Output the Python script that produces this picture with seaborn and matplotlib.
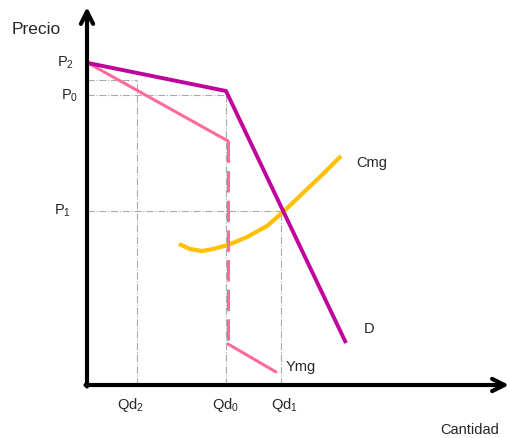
import matplotlib as mpl

mpl.use('Agg')
import pandas as pd
import matplotlib.pyplot as plt
import seaborn as sns

sns.set_style('white')
plt.rcParams['font.family'] = ['Liberation Sans', 'DejaVu Sans']
plt.rcParams['mathtext.default'] = 'regular'

#### data (origin = corner of the axes) ####
d_x = [1, 139, 259]
d_y = [322, 294, 42]

ymg_top_x = [1, 141]
ymg_top_y = [322, 244]
ymg_gap_x = [141, 141]
ymg_gap_y = [244, 41]
ymg_low_x = [141, 189]
ymg_low_y = [41, 13]

cmg_x = [92, 103, 115, 126, 141, 160, 180, 196, 216, 236, 254]
cmg_y = [141, 136, 134, 136, 140, 148, 159, 173, 192, 211, 229]

p_levels = {'P2': 322, 'P0': 290, 'P1': 174}
q_levels = {'Qd2': 50, 'Qd0': 139, 'Qd1': 194}
guide_top = {'Qd2': 305, 'Qd0': 290, 'Qd1': 174}
##########################################

D_COLOR = '#C0049B'
YMG_COLOR = '#FF6A9C'
CMG_COLOR = '#FFC000'
GUIDE = '#AAAAAA'

fig = plt.figure(figsize=(5.1, 4.38), dpi=100)
ax = fig.add_axes([0, 0, 1, 1])
ax.set_xlim(-87, 423)
ax.set_ylim(-53, 385)
ax.axis('off')

# guide lines
for name, q in q_levels.items():
    top = guide_top[name]
    ax.plot([q, q], [0, top], color=GUIDE, lw=0.8, ls='-.')
    ax.plot([0, q], [top, top], color=GUIDE, lw=0.8, ls='-.')

# curves
sns.lineplot(x=cmg_x, y=cmg_y, sort=False, color=CMG_COLOR, lw=3,
             solid_capstyle='butt', solid_joinstyle='round', ax=ax)
sns.lineplot(x=ymg_top_x, y=ymg_top_y, sort=False, color=YMG_COLOR, lw=2.2,
             ax=ax)
ax.plot(ymg_gap_x, ymg_gap_y, color=YMG_COLOR, lw=2.2, ls=(0, (7, 2.7)))
sns.lineplot(x=ymg_low_x, y=ymg_low_y, sort=False, color=YMG_COLOR, lw=2.2,
             ax=ax)
sns.lineplot(x=d_x, y=d_y, sort=False, color=D_COLOR, lw=2.8,
             solid_capstyle='butt', ax=ax)

# axes with arrows
ax.annotate('', xy=(0, 378), xytext=(0, -1.5),
            arrowprops=dict(arrowstyle='->', lw=3, color='black',
                            mutation_scale=22, shrinkA=0, shrinkB=0))
ax.annotate('', xy=(422, 0), xytext=(-1.5, 0),
            arrowprops=dict(arrowstyle='->', lw=3, color='black',
                            mutation_scale=22, shrinkA=0, shrinkB=0))

# labels
ax.text(-75, 355, 'Precio', fontsize=12.5, ha='left', va='center')
ax.text(-21, p_levels['P2'], 'P$_2$', fontsize=10.5, ha='center', va='center')
ax.text(-17, p_levels['P0'] - 1, 'P$_0$', fontsize=10.5, ha='center', va='center')
ax.text(-24, p_levels['P1'], 'P$_1$', fontsize=10.5, ha='center', va='center')
ax.text(43, -20, 'Qd$_2$', fontsize=10.5, ha='center', va='center')
ax.text(138, -20, 'Qd$_0$', fontsize=10.5, ha='center', va='center')
ax.text(197, -20, 'Qd$_1$', fontsize=10.5, ha='center', va='center')
ax.text(383, -45, 'Cantidad', fontsize=10.5, ha='center', va='center')
ax.text(269, 222, 'Cmg', fontsize=10.5, ha='left', va='center')
ax.text(277, 56, 'D', fontsize=10.5, ha='left', va='center')
ax.text(199, 18, 'Ymg', fontsize=10.5, ha='left', va='center')

plt.savefig('out.png', dpi=100)
